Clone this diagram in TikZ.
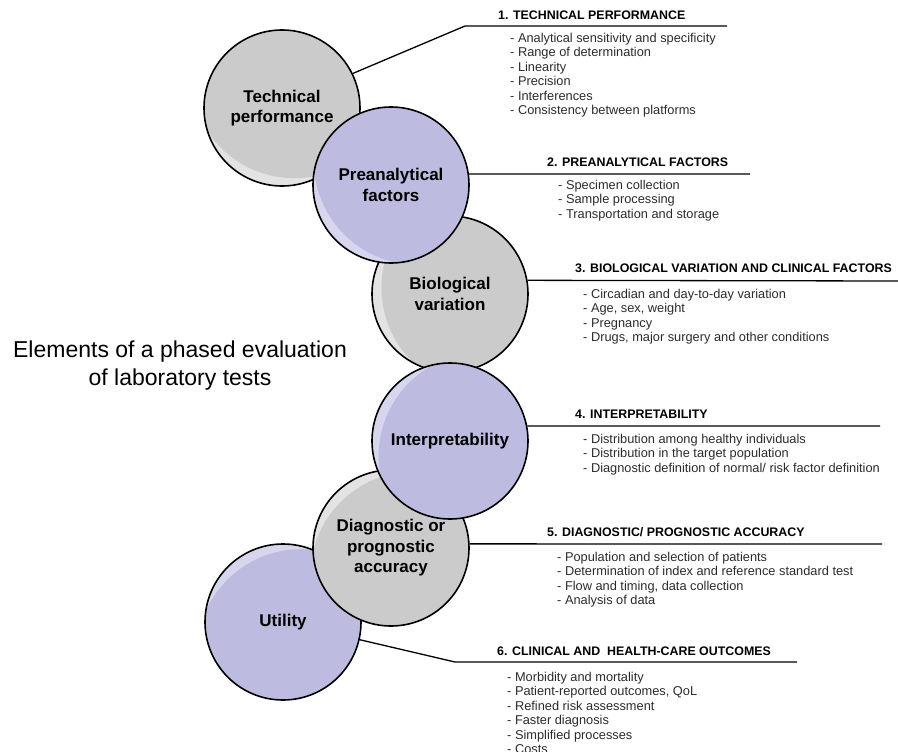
\documentclass[tikz,border=0pt]{standalone}
\usepackage{fontspec}
\setmainfont{Liberation Sans}
\usetikzlibrary{calc}

\definecolor{phasegray}{HTML}{CBCBCB}
\definecolor{phasegraylight}{HTML}{E3E3E3}
\definecolor{phaselilac}{HTML}{BDBBDF}
\definecolor{phaselilaclight}{HTML}{D7D6EE}
\definecolor{itemtext}{HTML}{2B2B2B}

% #1 name, #2 centre, #3 colour, #4 gloss colour, #5 gloss angle, #6 label
\newcommand{\phasecircle}[6]{%
    \begin{scope}
        \clip (#2) circle (78pt);
        \fill[#4] (#2) circle (78pt);
        \fill[#3] ($(#2)+(#5+180:36pt)$) circle (104pt);
    \end{scope}
    \node[phase] (#1) at (#2) {#6};
}

\begin{document}
\begin{tikzpicture}[x=1pt,y=-1pt,
    phase/.style={circle,draw,line width=1.6pt,minimum size=156pt,inner sep=0pt,
        align=center,font=\fontsize{17}{20.5}\selectfont\bfseries},
    link/.style={line width=1.3pt},
    head/.style={anchor=base west,inner sep=0pt,font=\fontsize{12.4}{14}\selectfont\bfseries},
    items/.style={anchor=north west,inner sep=0pt,align=left,text=itemtext,
        font=\fontsize{12.8}{14.4}\selectfont},
    title/.style={align=center,inner sep=0pt,font=\fontsize{23}{28}\selectfont}]
    \useasboundingbox (0,0) rectangle (898,752);

    % circles, back to front
    \phasecircle{tech}{282,108}{phasegray}{phasegraylight}{250}{Technical\\performance}
    \phasecircle{bio}{450,294}{phasegray}{phasegraylight}{190}{Biological\\variation}
    \phasecircle{util}{283,622}{phaselilac}{phaselilaclight}{120}{Utility}
    \phasecircle{diag}{391,548}{phasegray}{phasegraylight}{130}{Diagnostic or\\prognostic\\accuracy}
    \phasecircle{pre}{391,185}{phaselilac}{phaselilaclight}{222}{Preanalytical\\factors}
    \phasecircle{interp}{450,441}{phaselilac}{phaselilaclight}{155}{Interpretability}

    \node[title] (title) at (180,366) {Elements of a phased evaluation\\of laboratory tests};

    % connectors
    \coordinate (tech-bend) at (465,26);
    \coordinate (tech-end) at (727,26);
    \coordinate (pre-end) at (750,174);
    \coordinate (bio-end) at (898,281);
    \coordinate (interp-end) at (880,426);
    \coordinate (diag-end) at (882,544);
    \coordinate (util-bend) at (455,662);
    \coordinate (util-end) at (797,662);
    \draw[link] (tech.26) -- (tech-bend) -- (tech-end);
    \draw[link] (pre.8) -- (pre-end);
    \draw[link] (bio.10) -- (bio-end);
    \draw[link] (interp.11) -- (interp-end);
    \draw[link] (diag.3) -- (diag-end);
    \draw[link] (util.-13) -- (util-bend) -- (util-end);

    % 1
    \node[head] (tech-head) at (498,19.5) {1. TECHNICAL PERFORMANCE};
    \node[items] (tech-list) at (510,33.1) {- Analytical sensitivity and specificity\\
        - Range of determination\\- Linearity\\- Precision\\- Interferences\\
        - Consistency between platforms};
    % 2
    \node[head] (pre-head) at (547,166.5) {2. PREANALYTICAL FACTORS};
    \node[items] (pre-list) at (558,180.1) {- Specimen collection\\- Sample processing\\
        - Transportation and storage};
    % 3
    \node[head] (bio-head) at (575,272.5) {3. BIOLOGICAL VARIATION AND CLINICAL FACTORS};
    \node[items] (bio-list) at (583,289.1) {- Circadian and day-to-day variation\\
        - Age, sex, weight\\- Pregnancy\\- Drugs, major surgery and other conditions};
    % 4
    \node[head] (interp-head) at (575,418.5) {4. INTERPRETABILITY};
    \node[items] (interp-list) at (583,434.1) {- Distribution among healthy individuals\\
        - Distribution in the target population\\
        - Diagnostic definition of normal/ risk factor definition};
    % 5
    \node[head] (diag-head) at (547,536.5) {5. DIAGNOSTIC/ PROGNOSTIC ACCURACY};
    \node[items] (diag-list) at (557,552.1) {- Population and selection of patients\\
        - Determination of index and reference standard test\\
        - Flow and timing, data collection\\- Analysis of data};
    % 6
    \node[head] (util-head) at (497,655.5) {6. CLINICAL AND~ HEALTH-CARE OUTCOMES};
    \node[items] (util-list) at (507,672.1) {- Morbidity and mortality\\
        - Patient-reported outcomes, QoL\\- Refined risk assessment\\
        - Faster diagnosis\\- Simplified processes\\- Costs};
\end{tikzpicture}
\end{document}
